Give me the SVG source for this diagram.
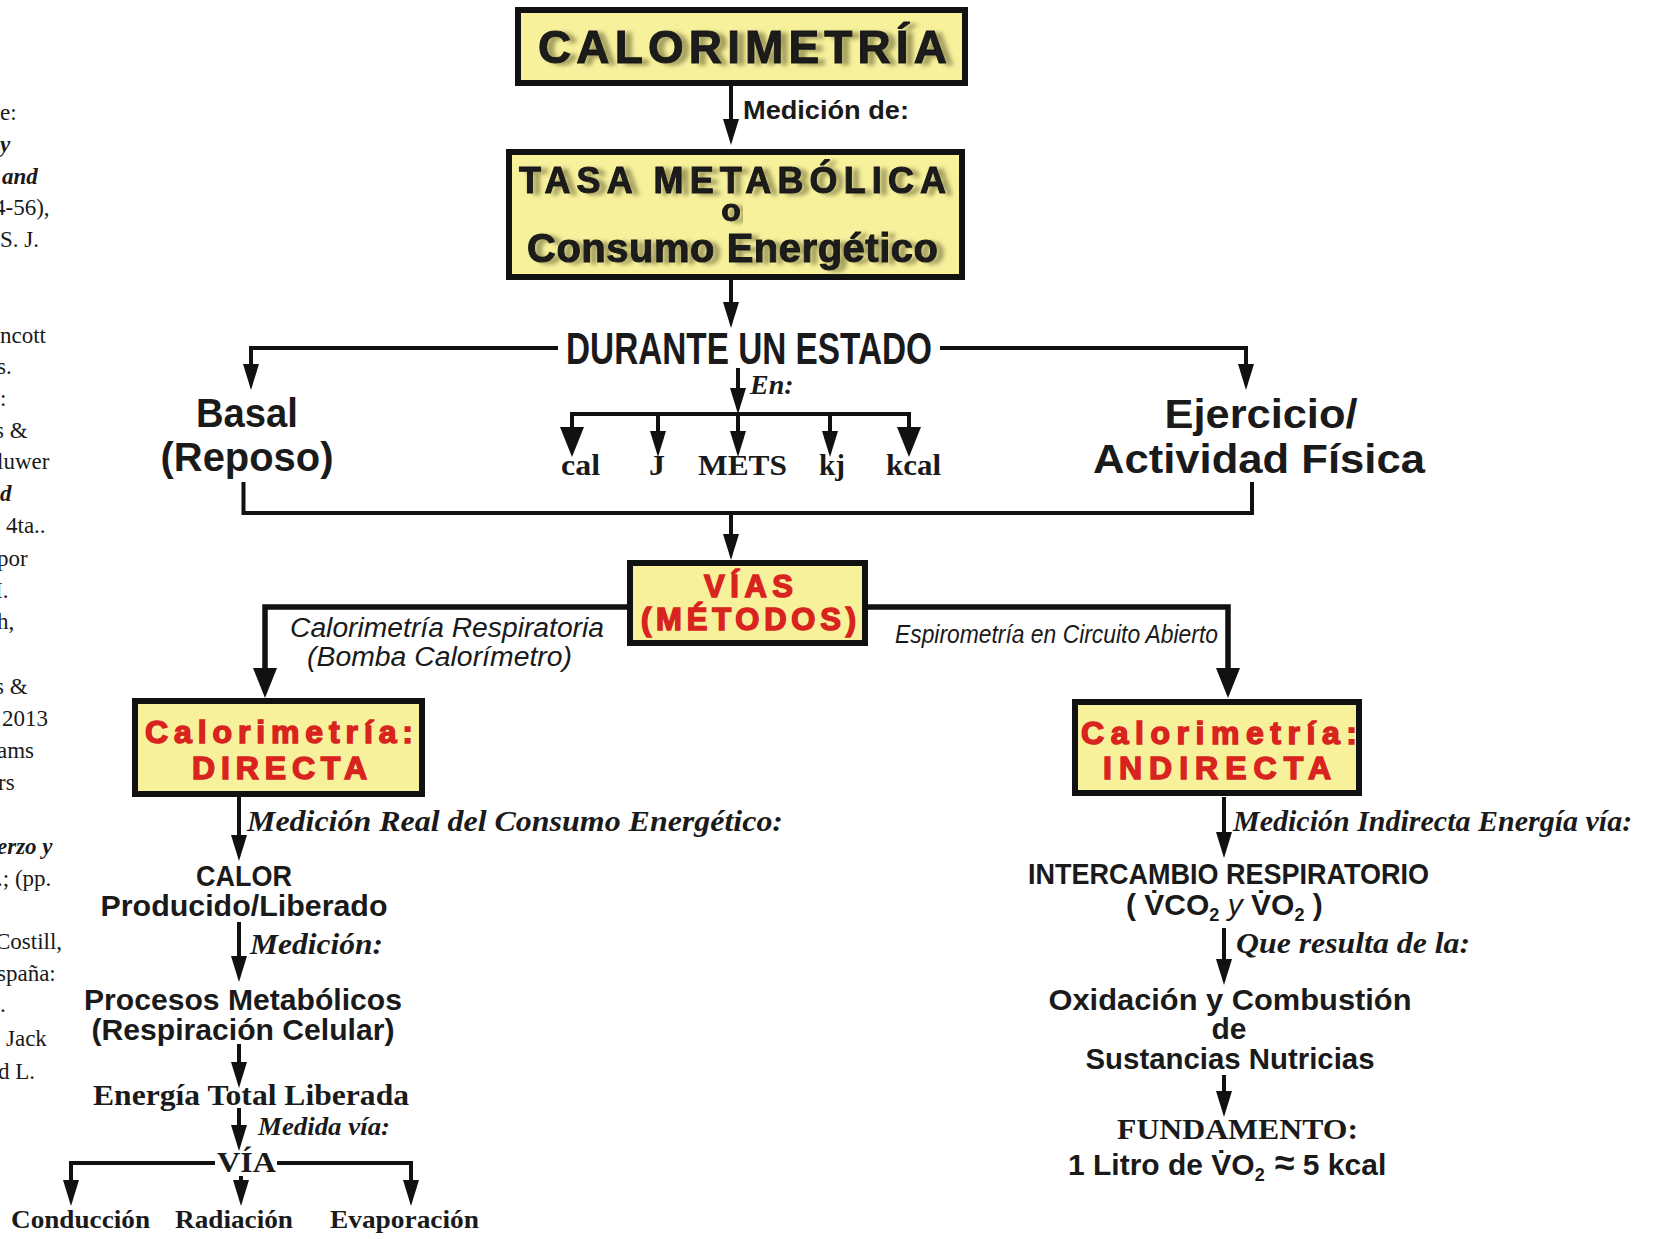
<svg xmlns="http://www.w3.org/2000/svg" width="1653" height="1239" viewBox="0 0 1653 1239">
<defs>
<style>
.box{fill:#f8f19c;stroke:#111;stroke-width:6}
.ttl{font-family:"Liberation Sans",Arial,sans-serif;font-weight:bold;fill:#1a1a1a;stroke:#1a1a1a;stroke-width:1}
.red{font-family:"Liberation Sans",Arial,sans-serif;font-weight:bold;fill:#d8231e;stroke:#d8231e;stroke-width:1.5}
.g{font-family:"Liberation Sans",Arial,sans-serif;font-weight:bold;fill:#1a1a1a}
.gi{font-family:"Liberation Sans",Arial,sans-serif;font-style:italic;fill:#1a1a1a}
.sb{font-family:"Liberation Serif","Times New Roman",serif;font-weight:bold;fill:#1a1a1a}
.sbi{font-family:"Liberation Serif","Times New Roman",serif;font-weight:bold;font-style:italic;fill:#1a1a1a}
.ref{font-family:"Liberation Serif","Times New Roman",serif;font-size:23px;fill:#1a1a1a}
.ln{fill:none;stroke:#111;stroke-width:4}
.thk{fill:none;stroke:#111;stroke-width:5.5}
</style>
<marker id="sm" markerUnits="userSpaceOnUse" markerWidth="26" markerHeight="16" viewBox="0 0 26 16" refX="12" refY="8" orient="auto">
<path d="M0,0 L26,8 L0,16 Z" fill="#111"/>
</marker>
<marker id="lg" markerUnits="userSpaceOnUse" markerWidth="30" markerHeight="24" viewBox="0 0 30 24" refX="14" refY="12" orient="auto">
<path d="M0,0 L30,12 L0,24 Z" fill="#111"/>
</marker>
<filter id="ghost" x="-5%" y="-20%" width="115%" height="150%">
<feGaussianBlur in="SourceAlpha" stdDeviation="2.2" result="b"/>
<feOffset in="b" dx="7" dy="2" result="o"/>
<feFlood flood-color="#5d5a2c" flood-opacity="0.55"/>
<feComposite in2="o" operator="in" result="s"/>
<feMerge><feMergeNode in="s"/><feMergeNode in="SourceGraphic"/></feMerge>
</filter>
</defs>

<g id="references">
<text class="ref" x="0" y="120">e:</text>
<text class="ref" x="0" y="152" font-weight="bold" font-style="italic">y</text>
<text class="ref" x="2" y="184" font-weight="bold" font-style="italic">and</text>
<text class="ref" x="-6" y="215">4-56),</text>
<text class="ref" x="0" y="247">S. J.</text>
<text class="ref" x="0" y="343">ncott</text>
<text class="ref" x="-3" y="374">s.</text>
<text class="ref" x="0" y="406">:</text>
<text class="ref" x="-5" y="438">s &amp;</text>
<text class="ref" x="-3" y="469">luwer</text>
<text class="ref" x="0" y="501" font-weight="bold" font-style="italic">d</text>
<text class="ref" x="6" y="533">4ta..</text>
<text class="ref" x="-3" y="566">por</text>
<text class="ref" x="-5" y="598">I.</text>
<text class="ref" x="-3" y="629">h,</text>
<text class="ref" x="-5" y="694">s &amp;</text>
<text class="ref" x="2" y="726">2013</text>
<text class="ref" x="-3" y="758">ams</text>
<text class="ref" x="-2" y="790">rs</text>
<text class="ref" x="-3" y="854" font-weight="bold" font-style="italic">erzo y</text>
<text class="ref" x="-3" y="886">.; (pp.</text>
<text class="ref" x="-5" y="949">Costill,</text>
<text class="ref" x="-3" y="981">spaña:</text>
<text class="ref" x="0" y="1012">.</text>
<text class="ref" x="6" y="1046">Jack</text>
<text class="ref" x="-2" y="1079">d L.</text>
</g>

<g id="connectors">
<line class="ln" x1="731" y1="86" x2="731" y2="131" marker-end="url(#sm)"/>
<line class="ln" x1="731" y1="280" x2="731" y2="314" marker-end="url(#sm)"/>
<path class="ln" d="M558,348 H251 V376" marker-end="url(#sm)"/>
<path class="ln" d="M940,348 H1246 V376" marker-end="url(#sm)"/>
<line class="ln" x1="738" y1="368" x2="738" y2="400" marker-end="url(#sm)"/>
<line class="ln" x1="572" y1="414" x2="909" y2="414"/>
<line class="ln" x1="572" y1="412" x2="572" y2="441" marker-end="url(#lg)"/>
<line class="ln" x1="658" y1="412" x2="658" y2="443" marker-end="url(#sm)"/>
<line class="ln" x1="738" y1="412" x2="738" y2="443" marker-end="url(#sm)"/>
<line class="ln" x1="830" y1="412" x2="830" y2="443" marker-end="url(#sm)"/>
<line class="ln" x1="909" y1="412" x2="909" y2="441" marker-end="url(#lg)"/>
<path class="ln" d="M243.5,482 V513 H1252 V482"/>
<line class="ln" x1="731" y1="513" x2="731" y2="546" marker-end="url(#sm)"/>
<path class="thk" d="M627,607 H265 V682" marker-end="url(#lg)"/>
<path class="thk" d="M868,607 H1228 V682" marker-end="url(#lg)"/>
<line class="ln" x1="239" y1="797" x2="239" y2="847" marker-end="url(#sm)"/>
<line class="ln" x1="239" y1="922" x2="239" y2="968" marker-end="url(#sm)"/>
<line class="ln" x1="239" y1="1044" x2="239" y2="1074" marker-end="url(#sm)"/>
<line class="ln" x1="239" y1="1108" x2="239" y2="1137" marker-end="url(#sm)"/>
<path class="ln" d="M215,1163 H71 V1192" marker-end="url(#sm)"/>
<path class="ln" d="M277,1163 H411 V1192" marker-end="url(#sm)"/>
<line class="ln" x1="241" y1="1176" x2="241" y2="1192" marker-end="url(#sm)"/>
<line class="ln" x1="1224" y1="797" x2="1224" y2="844" marker-end="url(#sm)"/>
<line class="ln" x1="1224" y1="928" x2="1224" y2="971" marker-end="url(#sm)"/>
<line class="ln" x1="1224" y1="1075" x2="1224" y2="1103" marker-end="url(#sm)"/>
</g>

<g id="node-calorimetria">
<rect class="box" x="518" y="10" width="447" height="73"/>
<text class="ttl" x="538" y="63" font-size="46" textLength="409" lengthAdjust="spacing" filter="url(#ghost)">CALORIMETRÍA</text>
</g>
<text id="label-medicion-de" class="g" x="743" y="119" font-size="26" textLength="166" lengthAdjust="spacingAndGlyphs">Medición de:</text>

<g id="node-tasa">
<rect class="box" x="509" y="152" width="453" height="125"/>
<text class="ttl" x="519" y="193" font-size="36" textLength="427" lengthAdjust="spacing" filter="url(#ghost)">TASA METABÓLICA</text>
<text class="ttl" x="731" y="221" font-size="32" text-anchor="middle" filter="url(#ghost)">o</text>
<text class="ttl" x="527" y="262" font-size="40" textLength="411" lengthAdjust="spacing" filter="url(#ghost)">Consumo Energético</text>
</g>

<g id="node-durante">
<text class="g" x="566" y="364" font-size="44" textLength="366" lengthAdjust="spacingAndGlyphs">DURANTE UN ESTADO</text>
</g>
<text id="label-en" class="sbi" x="750" y="394" font-size="28">En:</text>

<g id="node-basal">
<text class="g" x="247" y="427" font-size="40" text-anchor="middle" textLength="102" lengthAdjust="spacingAndGlyphs">Basal</text>
<text class="g" x="247" y="471" font-size="40" text-anchor="middle" textLength="173" lengthAdjust="spacingAndGlyphs">(Reposo)</text>
</g>

<g id="node-ejercicio">
<text class="g" x="1261" y="428" font-size="40" text-anchor="middle" textLength="193" lengthAdjust="spacingAndGlyphs">Ejercicio/</text>
<text class="g" x="1259" y="473" font-size="40" text-anchor="middle" textLength="332" lengthAdjust="spacingAndGlyphs">Actividad Física</text>
</g>

<g id="node-units">
<text class="sb" x="561" y="475" font-size="30" textLength="39" lengthAdjust="spacingAndGlyphs">cal</text>
<text class="sb" x="649" y="475" font-size="30" textLength="16" lengthAdjust="spacingAndGlyphs">J</text>
<text class="sb" x="698" y="475" font-size="30" textLength="89" lengthAdjust="spacingAndGlyphs">METS</text>
<text class="sb" x="819" y="475" font-size="30" textLength="26" lengthAdjust="spacingAndGlyphs">kj</text>
<text class="sb" x="886" y="475" font-size="30" textLength="55" lengthAdjust="spacingAndGlyphs">kcal</text>
</g>

<g id="node-vias">
<rect class="box" x="630" y="563" width="235" height="80"/>
<text class="red" x="704" y="597" font-size="31" textLength="89" lengthAdjust="spacing">VÍAS</text>
<text class="red" x="641" y="630" font-size="31" textLength="215" lengthAdjust="spacing">(MÉTODOS)</text>
</g>

<g id="labels-branches">
<text class="gi" x="290" y="637" font-size="27" textLength="314" lengthAdjust="spacingAndGlyphs">Calorimetría Respiratoria</text>
<text class="gi" x="307" y="666" font-size="27" textLength="265" lengthAdjust="spacingAndGlyphs">(Bomba Calorímetro)</text>
<text class="gi" x="895" y="643" font-size="26" textLength="323" lengthAdjust="spacingAndGlyphs">Espirometría en Circuito Abierto</text>
</g>

<g id="node-directa">
<rect class="box" x="135" y="701" width="287" height="93"/>
<text class="red" x="145" y="743" font-size="32" textLength="268" lengthAdjust="spacing">Calorimetría:</text>
<text class="red" x="192" y="779" font-size="32" textLength="175" lengthAdjust="spacing">DIRECTA</text>
</g>

<g id="node-indirecta">
<rect class="box" x="1075" y="702" width="284" height="91"/>
<text class="red" x="1081" y="744" font-size="32" textLength="276" lengthAdjust="spacing">Calorimetría:</text>
<text class="red" x="1103" y="779" font-size="32" textLength="228" lengthAdjust="spacing">INDIRECTA</text>
</g>

<text id="label-medicion-real" class="sbi" x="247" y="831" font-size="30" textLength="536" lengthAdjust="spacingAndGlyphs">Medición Real del Consumo Energético:</text>

<g id="node-calor">
<text class="g" x="244" y="886" font-size="29" text-anchor="middle" textLength="96" lengthAdjust="spacingAndGlyphs">CALOR</text>
<text class="g" x="244" y="916" font-size="29" text-anchor="middle" textLength="287" lengthAdjust="spacingAndGlyphs">Producido/Liberado</text>
</g>
<text id="label-medicion" class="sbi" x="250" y="954" font-size="30" textLength="133" lengthAdjust="spacingAndGlyphs">Medición:</text>

<g id="node-procesos">
<text class="g" x="243" y="1010" font-size="30" text-anchor="middle" textLength="318" lengthAdjust="spacingAndGlyphs">Procesos Metabólicos</text>
<text class="g" x="243" y="1040" font-size="30" text-anchor="middle" textLength="303" lengthAdjust="spacingAndGlyphs">(Respiración Celular)</text>
</g>

<g id="node-energia">
<text class="sb" x="93" y="1105" font-size="30" textLength="316" lengthAdjust="spacingAndGlyphs">Energía Total Liberada</text>
</g>
<text id="label-medida" class="sbi" x="258" y="1135" font-size="25" textLength="132" lengthAdjust="spacingAndGlyphs">Medida vía:</text>

<g id="node-via">
<text class="sb" x="217" y="1172" font-size="30" textLength="59" lengthAdjust="spacingAndGlyphs">VÍA</text>
</g>

<g id="node-conduccion"><text class="sb" x="11" y="1228" font-size="26" textLength="139" lengthAdjust="spacingAndGlyphs">Conducción</text></g>
<g id="node-radiacion"><text class="sb" x="175" y="1228" font-size="26" textLength="118" lengthAdjust="spacingAndGlyphs">Radiación</text></g>
<g id="node-evaporacion"><text class="sb" x="330" y="1228" font-size="26" textLength="149" lengthAdjust="spacingAndGlyphs">Evaporación</text></g>

<text id="label-medicion-indirecta" class="sbi" x="1233" y="831" font-size="30">Medición Indirecta Energía vía:</text>

<g id="node-intercambio">
<text class="g" x="1028" y="884" font-size="30" textLength="401" lengthAdjust="spacingAndGlyphs">INTERCAMBIO RESPIRATORIO</text>
<text class="g" x="1126" y="915" font-size="30">( V̇CO<tspan font-size="18" dy="6">2</tspan><tspan dy="-6">  </tspan><tspan font-style="italic" font-weight="normal">y</tspan>   V̇O<tspan font-size="18" dy="6">2</tspan><tspan dy="-6"> )</tspan></text>
</g>
<text id="label-que-resulta" class="sbi" x="1236" y="953" font-size="30" textLength="234" lengthAdjust="spacingAndGlyphs">Que resulta de la:</text>

<g id="node-oxidacion">
<text class="g" x="1230" y="1010" font-size="30" text-anchor="middle" textLength="363" lengthAdjust="spacingAndGlyphs">Oxidación y Combustión</text>
<text class="g" x="1229" y="1039" font-size="30" text-anchor="middle">de</text>
<text class="g" x="1230" y="1069" font-size="30" text-anchor="middle" textLength="289" lengthAdjust="spacingAndGlyphs">Sustancias Nutricias</text>
</g>

<g id="node-fundamento">
<text class="sb" x="1117" y="1139" font-size="30" textLength="241" lengthAdjust="spacingAndGlyphs">FUNDAMENTO:</text>
<text class="g" x="1068" y="1175" font-size="30">1 Litro de V̇O<tspan font-size="18" dy="6">2</tspan><tspan dy="-6" font-size="36"> ≈</tspan><tspan> 5 kcal</tspan></text>
</g>
</svg>
